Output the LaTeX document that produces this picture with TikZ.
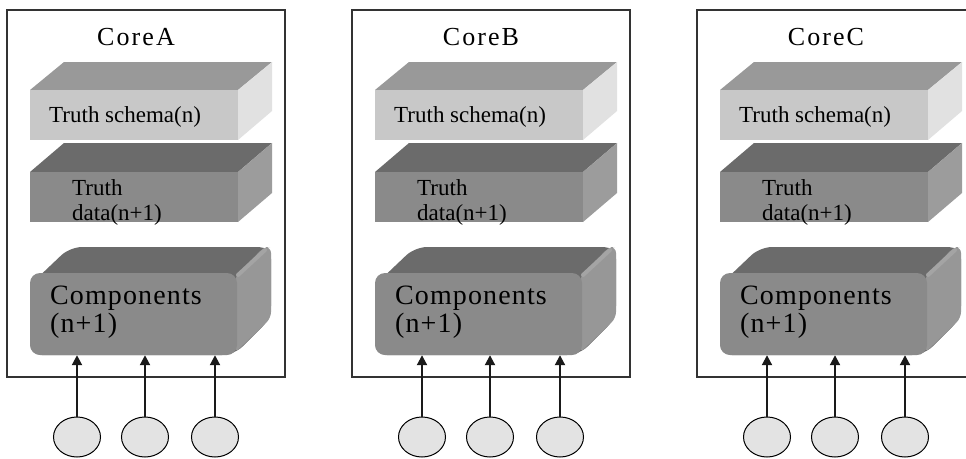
\documentclass[tikz,border=0pt]{standalone}
\usepackage{fontspec}
\setmainfont{Liberation Serif}
\usetikzlibrary{arrows.meta,shapes.geometric}

\definecolor{schemaTop}{HTML}{999999}
\definecolor{schemaFront}{HTML}{C8C8C8}
\definecolor{schemaSide}{HTML}{E1E1E1}
\definecolor{dataTop}{HTML}{6B6B6B}
\definecolor{dataFront}{HTML}{8A8A8A}
\definecolor{dataSide}{HTML}{9C9C9C}
\definecolor{compTop}{HTML}{6B6B6B}
\definecolor{compFront}{HTML}{8A8A8A}
\definecolor{compSide}{HTML}{979797}
\definecolor{compRidge}{HTML}{A4A4A4}
\definecolor{portFill}{HTML}{E3E3E3}
\definecolor{frameLine}{HTML}{333333}
\definecolor{feedLine}{HTML}{1A1A1A}

\tikzset{
  coreframe/.style={draw=frameLine, line width=1.3pt, fill=white,
    minimum width=278pt, minimum height=367pt, inner sep=0pt},
  corelabel/.style={anchor=base, inner sep=0pt,
    font=\fontsize{26}{28}\selectfont\addfontfeature{LetterSpace=8}},
  boxtext/.style={anchor=base west, inner sep=0pt,
    font=\fontsize{23}{25}\selectfont},
  datatext/.style={anchor=north west, inner sep=0pt, align=left,
    font=\fontsize{23}{25}\selectfont},
  comptext/.style={anchor=north west, inner sep=0pt, align=left,
    font=\fontsize{28}{28}\selectfont\addfontfeature{LetterSpace=4}},
  compfront/.style={fill=compFront, rounded corners=10pt,
    minimum width=207pt, minimum height=82pt, inner sep=0pt},
  port/.style={ellipse, draw=black, line width=1pt, fill=portFill,
    minimum width=47pt, minimum height=40pt, inner sep=0pt},
  feed/.style={draw=feedLine, line width=2pt,
    -{Triangle[width=10pt,length=10pt]}},
}

\begin{document}
\begin{tikzpicture}[x=1pt,y=-1pt]
\clip (0,0) rectangle (966,458);
\fill[white] (0,0) rectangle (966,458);

\foreach \n/\off in {A/0,B/345,C/690}{
  \begin{scope}[xshift=\off pt]
    % outer frame of the core
    \node[coreframe] (frame\n) at (146,193.5) {};
    \node[corelabel] (label\n) at (136,45) {Core\n};

    % truth schema slab
    \fill[schemaTop]  (30,90) -- (64,62) -- (272,62) -- (238,90) -- cycle;
    \fill[schemaSide] (238,90) -- (272,62) -- (272,111) -- (238,140) -- cycle;
    \fill[schemaFront] (30,90) rectangle (238,140);
    \node[boxtext] (schema\n) at (49,122) {Truth schema(n)};

    % truth data slab
    \fill[dataTop]  (30,172) -- (64,143) -- (272,143) -- (238,172) -- cycle;
    \fill[dataSide] (238,172) -- (272,143) -- (272,193) -- (238,222) -- cycle;
    \fill[dataFront] (30,172) rectangle (238,222);
    \node[datatext] (data\n) at (72,179) {Truth\\data(n+1)};

    % components block with rounded edges
    \fill[compTop, rounded corners=12pt]
      (30,285) -- (70,247) -- (271,247) -- (271,318) -- (234,355) -- (30,355) -- cycle;
    \fill[compSide, rounded corners=6pt]
      (235,277) -- (264,247) -- (271,247) -- (271,318) -- (235,353) -- cycle;
    \draw[compRidge, line width=4pt, line cap=round]
      (238,275) -- (265,250);
    \node[compfront] (comp\n) at (133.5,314) {};
    \node[comptext] (ctext\n) at (50,286) {Components\\(n+1)};

    % input ports feeding the components
    \foreach \i/\px in {1/77,2/145,3/215}{
      \node[port] (port\n\i) at (\px,437) {};
      \draw[feed] (port\n\i.north) -- (port\n\i |- comp\n.south);
    }
  \end{scope}
}
\end{tikzpicture}
\end{document}
